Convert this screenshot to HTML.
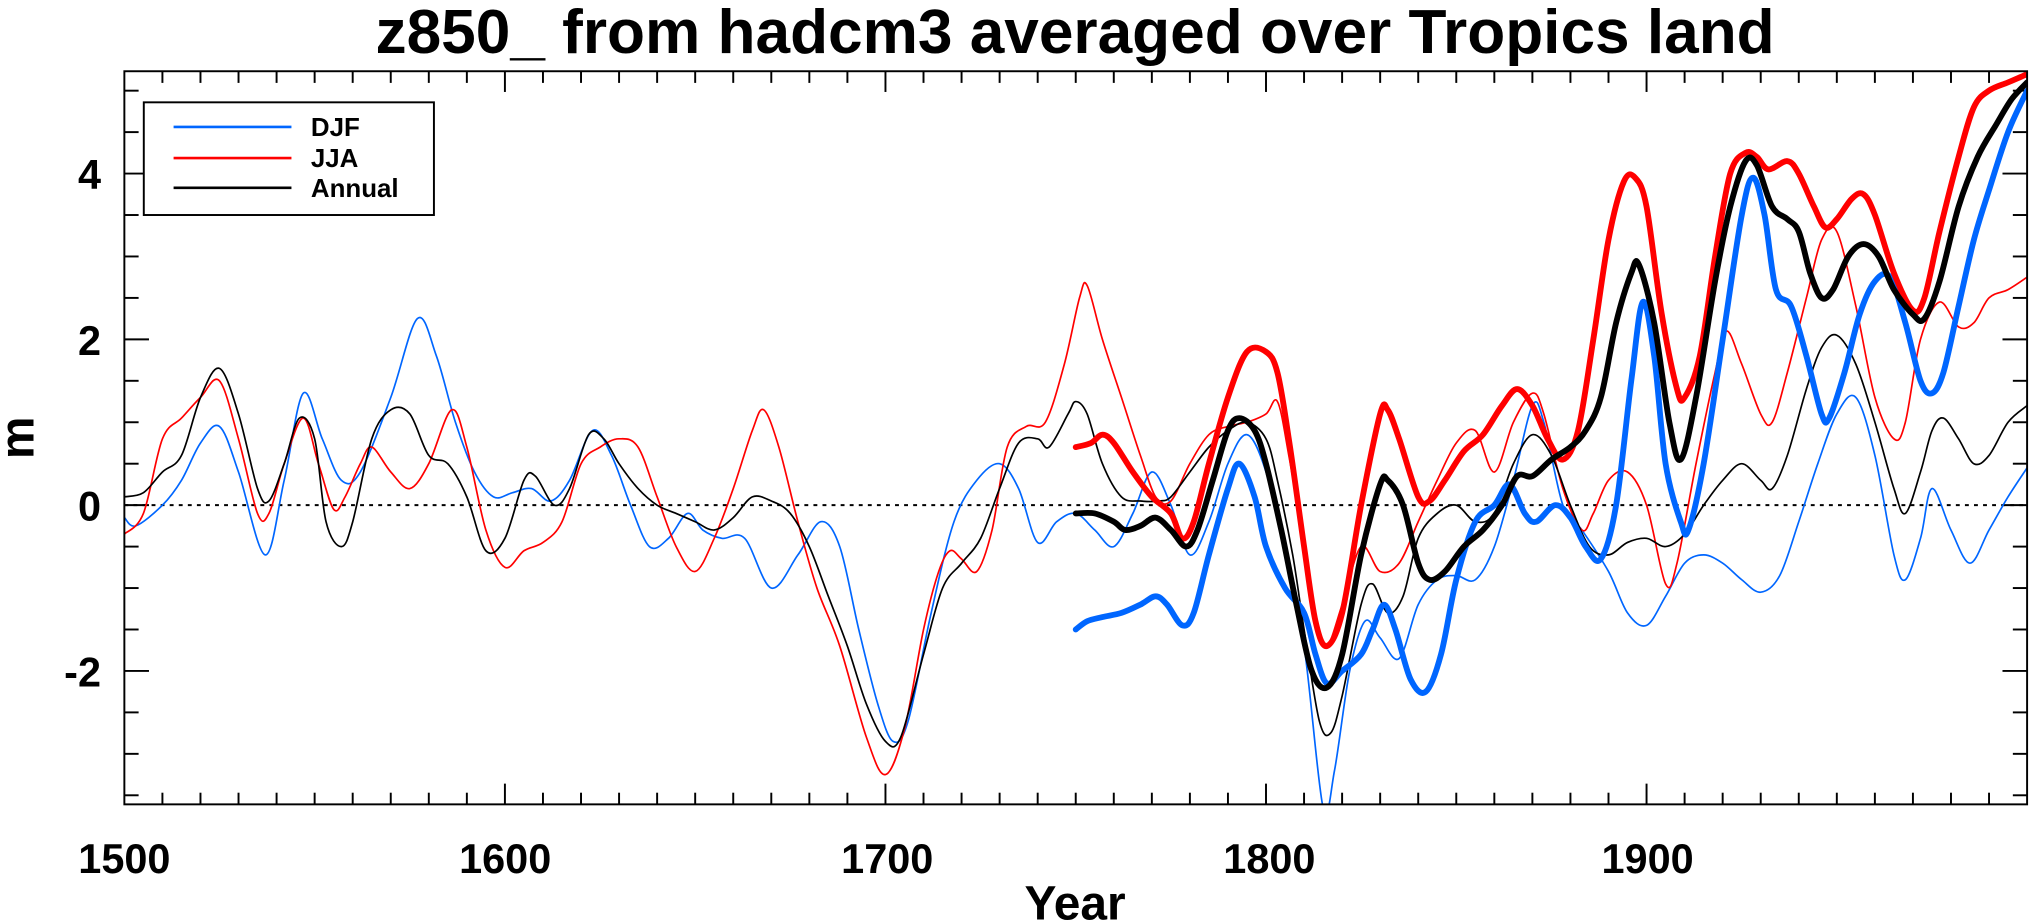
<!DOCTYPE html>
<html><head><meta charset="utf-8"><style>
html,body{margin:0;padding:0;background:#fff;}
svg{display:block;}
text{font-family:"Liberation Sans",Arial,sans-serif;font-weight:bold;fill:#000;}
</style></head><body>
<svg id="s" width="2031" height="923" viewBox="0 0 1568 712.6" xmlns="http://www.w3.org/2000/svg">
<defs><clipPath id="c"><rect x="96" y="55" width="1469" height="566"/></clipPath></defs>
<rect x="0" y="0" width="1568" height="713" fill="#fff"/>
<text x="830" y="41" font-size="48" text-anchor="middle">z850_ from hadcm3 averaged over Tropics land</text>
<g id="ticks" stroke="#000" stroke-width="1.5"></g>
<line x1="96" y1="390" x2="1565" y2="390" stroke="#000" stroke-width="1.5" stroke-dasharray="3,4"/>
<g id="series" clip-path="url(#c)" fill="none" stroke-linejoin="round" stroke-linecap="round"></g>
<rect x="96" y="55" width="1469" height="566" fill="none" stroke="#000" stroke-width="1.5"/>
<g font-size="32">
<text x="96" y="674" text-anchor="middle">1500</text>
<text x="390" y="674" text-anchor="middle">1600</text>
<text x="685" y="674" text-anchor="middle">1700</text>
<text x="980" y="674" text-anchor="middle">1800</text>
<text x="1272" y="674" text-anchor="middle">1900</text>
<text x="78" y="146" text-anchor="end">4</text>
<text x="78" y="274" text-anchor="end">2</text>
<text x="78" y="402" text-anchor="end">0</text>
<text x="78" y="530" text-anchor="end">-2</text>
</g>
<text x="830" y="710" font-size="37" text-anchor="middle">Year</text>
<text transform="translate(26,338) rotate(-90)" font-size="37" text-anchor="middle">m</text>
<rect x="111" y="79" width="224" height="87" fill="#fff" stroke="#000" stroke-width="1.5"/>
<line x1="134" y1="98" x2="225" y2="98" stroke="#0066ff" stroke-width="2"/>
<line x1="134" y1="122" x2="225" y2="122" stroke="#ff0000" stroke-width="2"/>
<line x1="134" y1="145" x2="225" y2="145" stroke="#000" stroke-width="2"/>
<g font-size="20"><text x="240" y="105">DJF</text><text x="240" y="129">JJA</text><text x="240" y="152">Annual</text></g>
</svg>
<script>
function X(y){return 96+(y-1500)*2.938;}
function Y(v){return 390-v*64;}
var tk=document.getElementById("ticks"),h="";
for(var yr=1510;yr<2000;yr+=10){var L=(yr%100==0)?16:9;var x=X(yr);
h+='<line x1="'+x+'" y1="621" x2="'+x+'" y2="'+(621-L)+'"/><line x1="'+x+'" y1="55" x2="'+x+'" y2="'+(55+L)+'"/>';}
for(var v=-3.5;v<=5.01;v+=0.5){var L=(Math.abs(v%2)<0.01)?19:11;var y=Y(v);
h+='<line x1="96" y1="'+y+'" x2="'+(96+L)+'" y2="'+y+'"/><line x1="1565" y1="'+y+'" x2="'+(1565-L)+'" y2="'+y+'"/>';}
tk.innerHTML=h;
function path(a){var p=[];for(var i=0;i<a.length;i+=2)p.push([X(a[i]),Y(a[i+1])]);
var d="M"+p[0][0].toFixed(1)+","+p[0][1].toFixed(1);
for(var i=0;i<p.length-1;i++){var p0=p[i>0?i-1:i],p1=p[i],p2=p[i+1],p3=p[i+2<p.length?i+2:i+1];
d+=" C"+(p1[0]+(p2[0]-p0[0])/6).toFixed(1)+","+(p1[1]+(p2[1]-p0[1])/6).toFixed(1)+" "+(p2[0]-(p3[0]-p1[0])/6).toFixed(1)+","+(p2[1]-(p3[1]-p1[1])/6).toFixed(1)+" "+p2[0].toFixed(1)+","+p2[1].toFixed(1);}
return d;}
var S=[
["#0066ff",1.3,[1500,-0.15,1503,-0.25,1510,0,1515,0.3,1520,0.75,1525,0.95,1530,0.4,1537,-0.6,1542,0.3,1547,1.35,1552,0.8,1557,0.3,1562,0.4,1570,1.3,1577,2.25,1582,1.8,1587,1.0,1592,0.4,1597,0.1,1602,0.15,1607,0.2,1612,0.05,1617,0.3,1623,0.9,1628,0.6,1633,0.0,1638,-0.5,1643,-0.4,1648,-0.1,1652,-0.3,1657,-0.4,1663,-0.4,1670,-1.0,1677,-0.6,1683,-0.2,1688,-0.5,1693,-1.5,1698,-2.4,1702,-2.85,1706,-2.6,1712,-1.3,1718,-0.2,1724,0.3,1730,0.5,1735,0.2,1740,-0.45,1745,-0.2,1750,-0.1,1755,-0.3,1760,-0.5,1765,-0.1,1770,0.4,1775,0.0,1780,-0.6,1785,-0.2,1790,0.5,1795,0.85,1800,0.4,1805,-0.6,1810,-1.7,1815,-3.65,1818,-3.2,1822,-2.0,1826,-1.4,1830,-1.6,1835,-1.85,1840,-1.2,1845,-0.9,1850,-0.85,1855,-0.9,1860,-0.5,1865,0.3,1870,1.2,1873,1.0,1878,0.0,1883,-0.3,1890,-0.8,1895,-1.3,1900,-1.45,1905,-1.1,1910,-0.7,1915,-0.6,1920,-0.7,1925,-0.9,1930,-1.05,1935,-0.85,1940,-0.2,1945,0.5,1950,1.1,1955,1.3,1960,0.6,1965,-0.6,1968,-0.9,1972,-0.4,1975,0.2,1980,-0.3,1985,-0.7,1990,-0.3,1995,0.1,2000,0.45]],
["#ff0000",1.3,[1500,-0.35,1505,-0.1,1510,0.8,1515,1.05,1520,1.3,1525,1.5,1530,0.8,1535,-0.1,1538,-0.1,1542,0.5,1547,1.05,1551,0.5,1555,-0.05,1558,0.1,1562,0.5,1565,0.7,1570,0.4,1575,0.2,1580,0.5,1586,1.15,1590,0.7,1595,-0.3,1600,-0.75,1605,-0.55,1610,-0.45,1615,-0.2,1620,0.5,1625,0.7,1630,0.8,1635,0.7,1640,0.1,1645,-0.5,1650,-0.8,1655,-0.4,1660,0.2,1665,0.9,1668,1.15,1672,0.7,1677,-0.2,1682,-1.0,1688,-1.7,1695,-2.8,1700,-3.25,1705,-2.7,1710,-1.5,1714,-0.8,1717,-0.55,1720,-0.65,1724,-0.8,1728,-0.3,1732,0.7,1737,0.95,1742,1.0,1747,1.7,1751,2.5,1753,2.65,1757,2.0,1762,1.3,1767,0.6,1771,0.1,1775,0.05,1780,0.5,1785,0.85,1790,0.95,1795,1.0,1800,1.1,1803,1.25,1806,0.6,1810,-0.5,1813,-1.4,1816,-1.7,1820,-1.2,1825,-0.5,1830,-0.8,1835,-0.7,1840,-0.2,1845,0.3,1850,0.75,1855,0.9,1860,0.4,1865,1.0,1870,1.35,1873,1.1,1878,0.2,1883,-0.3,1886,-0.1,1890,0.3,1895,0.4,1900,0.0,1905,-0.95,1908,-0.7,1913,0.5,1918,1.6,1921,2.1,1925,1.7,1930,1.1,1933,1.0,1937,1.6,1942,2.5,1946,3.2,1950,3.3,1955,2.4,1960,1.3,1965,0.8,1968,1.0,1972,2.0,1977,2.45,1982,2.15,1986,2.2,1990,2.5,1995,2.6,2000,2.75]],
["#000000",1.3,[1500,0.1,1505,0.15,1510,0.4,1515,0.6,1520,1.3,1525,1.65,1530,1.1,1535,0.2,1538,0.05,1542,0.5,1546,1.05,1550,0.8,1553,-0.2,1557,-0.5,1560,-0.2,1565,0.8,1570,1.15,1575,1.1,1580,0.6,1585,0.5,1590,0.1,1595,-0.55,1600,-0.4,1605,0.3,1608,0.35,1613,0.0,1617,0.2,1622,0.85,1626,0.8,1630,0.5,1635,0.2,1640,0.0,1645,-0.1,1650,-0.2,1655,-0.3,1660,-0.15,1665,0.1,1670,0.05,1675,-0.1,1680,-0.5,1685,-1.1,1690,-1.7,1695,-2.4,1700,-2.85,1704,-2.8,1710,-1.8,1715,-1.0,1720,-0.7,1725,-0.4,1730,0.2,1735,0.75,1740,0.8,1743,0.7,1748,1.1,1750,1.25,1753,1.1,1757,0.5,1762,0.1,1767,0.05,1772,0.05,1775,0.1,1780,0.4,1785,0.7,1790,0.9,1795,1.0,1800,0.8,1803,0.3,1807,-0.6,1810,-1.5,1814,-2.6,1817,-2.75,1820,-2.3,1825,-1.2,1828,-0.95,1832,-1.3,1836,-1.1,1840,-0.4,1845,-0.1,1850,0.0,1855,-0.2,1860,-0.1,1865,0.5,1870,0.85,1875,0.6,1880,0.0,1885,-0.5,1890,-0.6,1895,-0.45,1900,-0.4,1905,-0.5,1910,-0.35,1915,0.0,1920,0.3,1925,0.5,1930,0.3,1933,0.2,1937,0.6,1942,1.4,1946,1.9,1950,2.05,1955,1.7,1960,1.0,1965,0.2,1968,-0.1,1972,0.4,1975,0.9,1978,1.05,1982,0.8,1986,0.5,1990,0.6,1995,1.0,2000,1.2]],
["#0066ff",4.5,[1750,-1.5,1753,-1.4,1757,-1.35,1762,-1.3,1767,-1.2,1771,-1.1,1774,-1.2,1778,-1.45,1781,-1.3,1785,-0.6,1790,0.2,1793,0.5,1797,0.1,1800,-0.5,1805,-1.0,1810,-1.3,1813,-1.8,1816,-2.15,1820,-2.0,1825,-1.8,1828,-1.5,1831,-1.2,1834,-1.5,1838,-2.1,1842,-2.25,1846,-1.8,1850,-0.9,1855,-0.2,1860,0.0,1864,0.25,1868,-0.1,1871,-0.2,1876,0.0,1880,-0.15,1884,-0.5,1888,-0.65,1892,0.0,1896,1.5,1899,2.45,1902,1.8,1905,0.5,1909,-0.2,1911,-0.3,1915,0.5,1920,2.0,1925,3.5,1928,3.95,1931,3.5,1934,2.6,1938,2.4,1942,1.8,1946,1.1,1948,1.05,1952,1.6,1956,2.3,1960,2.7,1964,2.75,1968,2.2,1972,1.5,1975,1.35,1978,1.6,1982,2.4,1986,3.2,1990,3.8,1995,4.5,2000,5.0]],
["#ff0000",4.5,[1750,0.7,1754,0.75,1757,0.85,1760,0.75,1765,0.4,1770,0.1,1775,-0.1,1778,-0.4,1781,-0.2,1785,0.5,1790,1.3,1795,1.85,1800,1.85,1803,1.6,1806,0.8,1810,-0.5,1813,-1.4,1816,-1.7,1820,-1.3,1825,0.0,1830,1.1,1832,1.15,1835,0.8,1840,0.1,1843,0.05,1847,0.3,1852,0.65,1857,0.85,1862,1.2,1866,1.4,1870,1.2,1874,0.8,1878,0.55,1882,0.9,1886,2.0,1890,3.2,1894,3.9,1897,3.95,1900,3.6,1904,2.3,1908,1.4,1910,1.3,1914,1.8,1918,3.0,1922,4.0,1926,4.25,1929,4.2,1932,4.05,1937,4.15,1940,4.0,1944,3.6,1947,3.35,1950,3.45,1954,3.7,1957,3.75,1960,3.5,1965,2.8,1970,2.35,1973,2.5,1977,3.3,1982,4.2,1986,4.8,1990,5.0,1995,5.1,2000,5.2]],
["#000000",4.5,[1750,-0.1,1755,-0.1,1760,-0.2,1763,-0.3,1767,-0.25,1771,-0.15,1775,-0.3,1779,-0.5,1782,-0.3,1786,0.3,1790,0.9,1793,1.05,1797,0.9,1800,0.5,1804,-0.3,1808,-1.2,1812,-2.0,1816,-2.2,1820,-1.8,1825,-0.6,1830,0.25,1832,0.3,1836,0.0,1840,-0.7,1843,-0.9,1847,-0.8,1852,-0.5,1857,-0.3,1862,0.0,1866,0.35,1870,0.35,1875,0.55,1880,0.7,1884,0.9,1888,1.3,1892,2.2,1896,2.8,1898,2.9,1902,2.2,1906,1.0,1909,0.55,1913,1.3,1918,2.7,1922,3.6,1926,4.15,1929,4.1,1933,3.6,1937,3.45,1940,3.3,1943,2.8,1946,2.5,1949,2.6,1953,3.0,1957,3.15,1961,3.0,1965,2.6,1970,2.3,1973,2.25,1977,2.7,1982,3.6,1987,4.2,1992,4.6,1996,4.9,2000,5.1]]
];
var g=document.getElementById("series"),o="";
S.forEach(function(s){o+='<path d="'+path(s[2])+'" stroke="'+s[0]+'" stroke-width="'+s[1]+'"/>';});
g.innerHTML=o;
</script>
</body></html>
